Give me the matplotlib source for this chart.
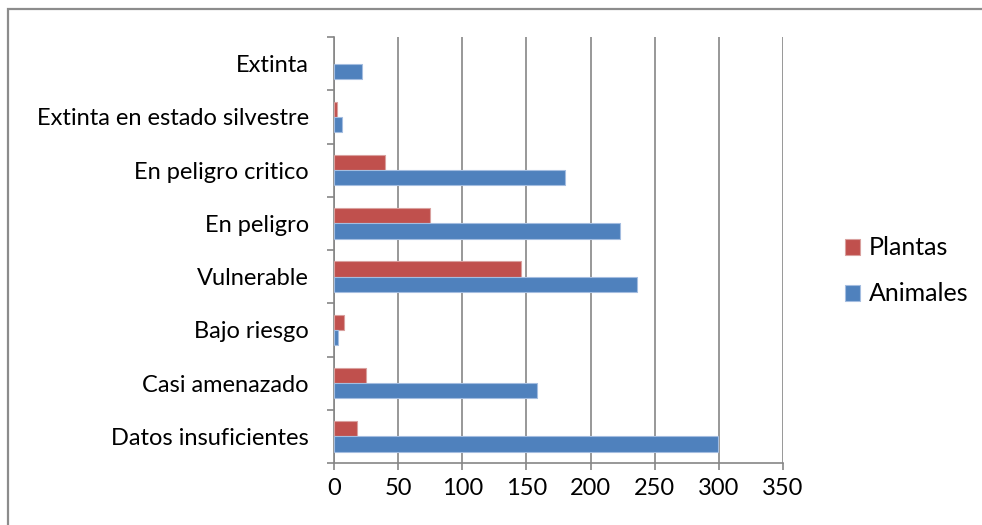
import matplotlib
matplotlib.use("Agg")
import matplotlib.pyplot as plt
from matplotlib.patches import Rectangle
import numpy as np

categories = ["Datos insuficientes", "Casi amenazado", "Bajo riesgo", "Vulnerable",
              "En peligro", "En peligro critico", "Extinta en estado silvestre", "Extinta"]
plantas = [18, 25, 8, 146, 75, 40, 2, 0]
animales = [299, 158, 3, 236, 223, 180, 6, 22]
xticks = [0, 50, 100, 150, 200, 250, 300, 350]

plt.rcParams['font.family'] = ['Lato', 'DejaVu Sans']

fig = plt.figure(figsize=(9.82, 5.25), dpi=100)
fig.patches.append(Rectangle((8/982, -0.1), 1.5, (525-9)/525 + 0.1, transform=fig.transFigure,
                             fill=False, edgecolor='#8c8c8c', linewidth=1.6))
ax = fig.add_axes([334/982, 1-463/525, (783-334)/982, (463-37)/525])

y = np.arange(len(categories))
h = 0.285
c_red = '#C0504D'
c_blue = '#4F81BD'
lw_p = [0.8 if v > 0 else 0 for v in plantas]
lw_a = [0.8 if v > 0 else 0 for v in animales]
ax.barh(y + h/2, plantas, height=h, color=c_red, edgecolor='#d9a09e', linewidth=lw_p, label='Plantas', zorder=3)
ax.barh(y - h/2, animales, height=h, color=c_blue, edgecolor='#a4bde0', linewidth=lw_a, label='Animales', zorder=3)

ax.set_xlim(0, 350)
ax.set_ylim(-0.5, len(categories) - 0.5)
ax.set_xticks(xticks)
ax.set_xticklabels([str(v) for v in xticks], fontsize=17)
ax.set_yticks(y)
ax.set_yticklabels(categories, fontsize=17)
ax.set_yticks(np.arange(-0.5, len(categories), 1), minor=True)
ax.tick_params(axis='y', which='major', length=0, pad=18)
ax.tick_params(axis='y', which='minor', length=5, color='#868686', width=1.2)
ax.tick_params(axis='x', length=5, color='#868686', width=1.2, pad=6)
ax.grid(axis='x', color='#868686', linewidth=1.2, zorder=0)
for s in ['top', 'right']:
    ax.spines[s].set_visible(False)
for s in ['left', 'bottom']:
    ax.spines[s].set_color('#868686')
    ax.spines[s].set_linewidth(1.2)

handles, labels = ax.get_legend_handles_labels()
leg = fig.legend(handles, labels, loc='upper left', bbox_to_anchor=(822/982, 1-214/525),
                 frameon=False, fontsize=18, handlelength=0.62, handleheight=0.62,
                 labelspacing=0.92, handletextpad=0.35)

fig.savefig("out.png", dpi=100)
